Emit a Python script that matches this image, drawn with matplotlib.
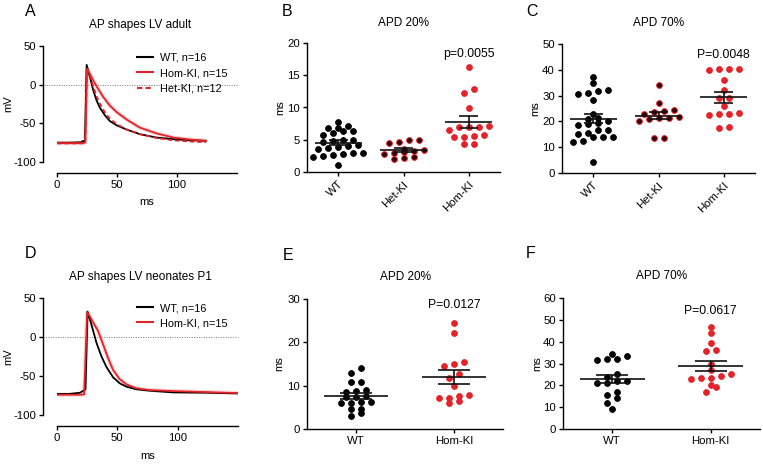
import numpy as np
import matplotlib
matplotlib.use("Agg")
import matplotlib.pyplot as plt
from matplotlib.lines import Line2D

plt.rcParams['font.family'] = ['Liberation Sans', 'DejaVu Sans']
plt.rcParams['axes.unicode_minus'] = False

# ---------------- data ----------------
# Panel A: AP shapes LV adult (time in ms, voltage in mV)
wt_a_t = [0, 10, 20, 21.5, 23.3, 24.7, 27.5, 30.3, 33, 35.8, 40, 44, 49.7, 58, 69, 83, 97, 111, 124]
wt_a_v = [-75, -75, -74.5, -73, -72.5, 25.6, 9.4, -7.7, -20.5, -30, -39.7, -47, -52.6, -58, -64, -68.4, -70.5, -71.8, -72.6]
hom_a_t = [0, 10, 20, 23.0, 23.6, 25.0, 27.5, 30.3, 34.4, 38.6, 44, 49.7, 58, 69, 83, 97, 111, 124]
hom_a_v = [-75.5, -75.5, -75.5, -75, -74, 20, 13.7, 5, -5.6, -16, -27, -35.5, -45, -55.5, -63, -68.4, -71, -72.6]
het_a_t = [0, 10, 20, 23.0, 23.6, 25.0, 27.5, 30.3, 33, 35.8, 40, 44, 49.7, 58, 69, 83, 97, 111, 124]
het_a_v = [-76, -76, -76, -75.5, -74.5, 22, 12, -3, -15, -25, -36, -44, -51, -58, -64, -69, -72, -73.5, -74.5]

# Panel D: AP shapes LV neonates P1
wt_d_t = [0, 10, 19, 21.7, 23.6, 25.3, 27.2, 30, 32.7, 36.8, 41, 46.4, 51.9, 57.4, 65.7, 76.6, 95.9, 123, 150]
wt_d_v = [-73, -73, -71.5, -69, -67, 32.5, 23, 7.8, -7.4, -24.7, -38.5, -51.5, -59.3, -63.6, -67, -68.8, -71, -71.4, -72.3]
hom_d_t = [0, 10, 20, 22.5, 25.0, 27.2, 30, 34, 38.2, 42.3, 46.4, 51.9, 57.4, 65.7, 76.6, 95.9, 123, 150]
hom_d_v = [-74, -74, -74, -73.5, 31.6, 26.4, 18.6, 7.8, -9.5, -26.8, -42, -54, -60.6, -65.8, -68, -69.3, -70.6, -71.9]

legend_a = ["WT, n=16", "Hom-KI, n=15", "Het-KI, n=12"]
legend_d = ["WT, n=16", "Hom-KI, n=15"]

# Panel B: APD 20% adult (ms)
cats_adult = ["WT", "Het-KI", "Hom-KI"]
b_wt = [7.7, 7.2, 6.8, 6.8, 6.1, 6.4, 6.4, 5.8, 5.0, 4.8, 5.0, 4.6, 4.2, 4.0, 3.8, 2.9, 2.8, 2.7, 3.0, 3.6, 3.7, 2.3, 2.5, 1.1]
b_het = [4.5, 5.0, 4.7, 4.9, 3.1, 2.8, 3.0, 3.2, 3.4, 2.0, 2.4, 2.2, 3.6]
b_hom = [16.3, 12.2, 12.8, 9.9, 7.2, 7.0, 7.0, 6.9, 5.8, 5.4, 5.5, 5.6, 4.3, 4.4, 6.5]
b_p = "p=0.0055"

# Panel C: APD 70% adult (ms)
c_wt = [37.4, 34.8, 32.2, 30.9, 30.6, 31.8, 28.4, 23.0, 21.5, 21.0, 20.0, 19.2, 19.0, 18.5, 16.8, 16.5,
        15.6, 15.2, 14.1, 14.0, 13.8, 12.5, 12.2, 4.1]
c_het = [34.1, 27.2, 24.0, 23.8, 24.4, 21.2, 21.8, 21.2, 22.9, 20.2, 13.5, 13.7, 20.8]
c_hom = [40.0, 40.3, 40.3, 40.3, 36.2, 32.2, 28.9, 29.0, 25.8, 23.1, 22.9, 22.5, 22.7, 17.3, 18.0]
c_p = "P=0.0048"

# Panel E: APD 20% neonates (ms)
cats_neo = ["WT", "Hom-KI"]
e_wt = [14.0, 13.0, 10.8, 10.8, 8.9, 8.5, 8.8, 7.7, 7.3, 7.5, 5.9, 6.3, 6.0, 6.2, 4.6, 4.6, 3.6, 3.0]
e_hom = [24.5, 22.1, 15.5, 14.6, 14.9, 12.8, 11.8, 10.0, 7.2, 7.8, 7.6, 7.2, 5.9, 6.5]
e_p = "P=0.0127"

# Panel F: APD 70% neonates (ms)
f_wt = [34.2, 33.4, 31.6, 31.9, 32.1, 24.0, 25.2, 20.9, 22.0, 21.8, 21.2, 15.6, 17.1, 14.0, 12.1, 9.2]
f_hom = [46.9, 43.8, 39.2, 35.7, 36.1, 29.6, 27.0, 23.5, 25.0, 23.5, 24.4, 22.8, 20.2, 19.2, 17.1]
f_p = "P=0.0617"

# ---------------- style ----------------
RED = '#e3232a'
PINK = '#f4a3a6'
BLACK = '#000000'
W, H = 763, 473
TICK_FS = 8.2
fig = plt.figure(figsize=(W / 100, H / 100), dpi=100)


def rect(l, t, r, b):
    return [l / W, 1 - b / H, (r - l) / W, (b - t) / H]


def style_axes(ax):
    for s in ['top', 'right']:
        ax.spines[s].set_visible(False)
    for s in ['left', 'bottom']:
        ax.spines[s].set_linewidth(1.0)
    ax.tick_params(direction='out', length=3.2, width=1.0, labelsize=TICK_FS, pad=2)


def trace_axes(r, title, series, labels, letter, letter_xy, title_y, xlab_y, leg_y):
    ax = fig.add_axes(rect(*r))
    style_axes(ax)
    ax.spines['left'].set_position(('outward', 10))
    ax.spines['bottom'].set_position(('outward', 8))
    ax.set_xlim(0, 150)
    ax.set_ylim(-100, 50)
    ax.set_xticks([0, 50, 100])
    ax.set_yticks([-100, -50, 0, 50])
    ax.axhline(0, xmin=-0.075, xmax=1, color='#777777', lw=0.7, ls=(0, (1, 1.5)), clip_on=False, zorder=1)
    handles = []
    for (t, v, color, ls, glow) in series:
        if glow:
            ax.plot(t, v, color=PINK, lw=3.0, alpha=0.45, solid_capstyle='round', zorder=2)
        ax.plot(t, v, color=color, lw=1.3, ls=ls, zorder=3)
        handles.append(Line2D([], [], color=color, lw=1.5, ls=ls))
    wpx = r[2] - r[0]
    hpx = r[3] - r[1]
    ax.legend(handles, labels, loc='upper left', bbox_to_anchor=((137 - r[0]) / wpx, (r[3] - leg_y) / hpx),
              frameon=False, fontsize=7.8, handlelength=1.5, handletextpad=0.6, labelspacing=0.48,
              borderaxespad=0, borderpad=0)
    ax.set_xlabel('ms', fontsize=8)
    ax.set_ylabel('mV', fontsize=8)
    ax.yaxis.set_label_coords((13 - r[0]) / wpx, 0.5)
    ax.xaxis.set_label_coords(0.5, (r[3] - xlab_y) / hpx)
    fig.text(140 / W, 1 - title_y / H, title, ha='center', va='center', fontsize=8.5)
    fig.text(letter_xy[0] / W, 1 - letter_xy[1] / H, letter, ha='left', va='center', fontsize=11.5)
    return ax


def swarm_x(vals, center, px_per_x, px_per_y, row_h=5.0, sp=10.0):
    """Prism-like column scatter: bin points into rows, spread each row symmetrically."""
    vals = np.asarray(vals, dtype=float)
    xs = np.zeros(len(vals))
    order = np.argsort(vals)
    rows = []
    cur = []
    start = None
    for i in order:
        y = vals[i] * px_per_y
        if start is None or y - start > row_h:
            if cur:
                rows.append(cur)
            cur = [i]
            start = y
        else:
            cur.append(i)
    if cur:
        rows.append(cur)
    for row in rows:
        n = len(row)
        for j, i in enumerate(row):
            xs[i] = center + (j - (n - 1) / 2.0) * sp / px_per_x
    return xs


def scatter_axes(r, xlim, ylim, yticks, cats, groups, pval, title, letter, letter_xy, title_y,
                 rotate, mean_hw, sem_hw, ylab_x):
    ax = fig.add_axes(rect(*r))
    style_axes(ax)
    ax.set_xlim(*xlim)
    ax.set_ylim(*ylim)
    ax.set_yticks(yticks)
    ax.set_xticks(range(len(cats)))
    if rotate:
        ax.set_xticklabels(cats, rotation=45, ha='right', va='top', rotation_mode='anchor', fontsize=TICK_FS)
    else:
        ax.set_xticklabels(cats, fontsize=TICK_FS)
    wpx = r[2] - r[0]
    hpx = r[3] - r[1]
    ppx = wpx / (xlim[1] - xlim[0])
    ppy = hpx / (ylim[1] - ylim[0])
    for i, (vals, fc, ec) in enumerate(groups):
        xs = swarm_x(vals, i, ppx, ppy)
        ax.scatter(xs, vals, s=17, facecolor=fc, edgecolor=ec, linewidths=0.7, zorder=3, clip_on=False)
        v = np.asarray(vals)
        m = v.mean()
        sem = v.std(ddof=1) / np.sqrt(len(v))
        ax.hlines(m, i - mean_hw, i + mean_hw, color='#111111', lw=1.2, zorder=4)
        ax.hlines([m - sem, m + sem], i - sem_hw, i + sem_hw, color='#111111', lw=1.2, zorder=4)
        ax.vlines(i, m - sem, m + sem, color='#111111', lw=1.2, zorder=4)
    ax.text(len(cats) - 1, pval[1], pval[0], ha='center', va='center', fontsize=8.8)
    ax.set_ylabel('ms', fontsize=8)
    ax.yaxis.set_label_coords((ylab_x + 5 - r[0]) / wpx, 0.5)
    cx = (r[0] + r[2]) / 2
    fig.text(cx / W, 1 - title_y / H, title, ha='center', va='center', fontsize=8.5)
    fig.text(letter_xy[0] / W, 1 - letter_xy[1] / H, letter, ha='left', va='center', fontsize=11.5)
    return ax


# Panel A
trace_axes((57, 46, 237, 162), "AP shapes LV adult",
           [(wt_a_t, wt_a_v, BLACK, '-', False),
            (hom_a_t, hom_a_v, RED, '-', True),
            (het_a_t, het_a_v, RED, (0, (2.5, 1.6)), False)],
           legend_a, "A", (25, 11), 25, 197, 53)

# Panel D
trace_axes((57, 298, 238, 415), "AP shapes LV neonates P1",
           [(wt_d_t, wt_d_v, BLACK, '-', False),
            (hom_d_t, hom_d_v, RED, '-', True)],
           legend_d, "D", (25, 254), 277, 451, 303)

# Panel B
scatter_axes((307, 43, 500, 172), (-0.48, 2.48), (0, 20), [0, 5, 10, 15, 20], cats_adult,
             [(b_wt, BLACK, BLACK), (b_het, '#2a0505', RED), (b_hom, RED, RED)],
             (b_p, 18.3), "APD 20%", "B", (282, 11), 23, True, 0.36, 0.15, 280)

# Panel C
scatter_axes((562, 44, 755, 173), (-0.48, 2.48), (0, 50), [0, 10, 20, 30, 40, 50], cats_adult,
             [(c_wt, BLACK, BLACK), (c_het, '#2a0505', RED), (c_hom, RED, RED)],
             (c_p, 45.7), "APD 70%", "C", (526, 11), 23, True, 0.36, 0.15, 535)

# Panel E
scatter_axes((307, 299, 503, 429), (-0.5, 1.5), (0, 30), [0, 10, 20, 30], cats_neo,
             [(e_wt, BLACK, BLACK), (e_hom, RED, RED)],
             (e_p, 28.6), "APD 20%", "E", (283, 255), 277, False, 0.33, 0.16, 279)

# Panel F
scatter_axes((563, 298, 760, 429), (-0.5, 1.5), (0, 60), [0, 10, 20, 30, 40, 50, 60], cats_neo,
             [(f_wt, BLACK, BLACK), (f_hom, RED, RED)],
             (f_p, 54.2), "APD 70%", "F", (526, 254), 276, False, 0.33, 0.16, 537)

fig.savefig('out.png', dpi=100)
